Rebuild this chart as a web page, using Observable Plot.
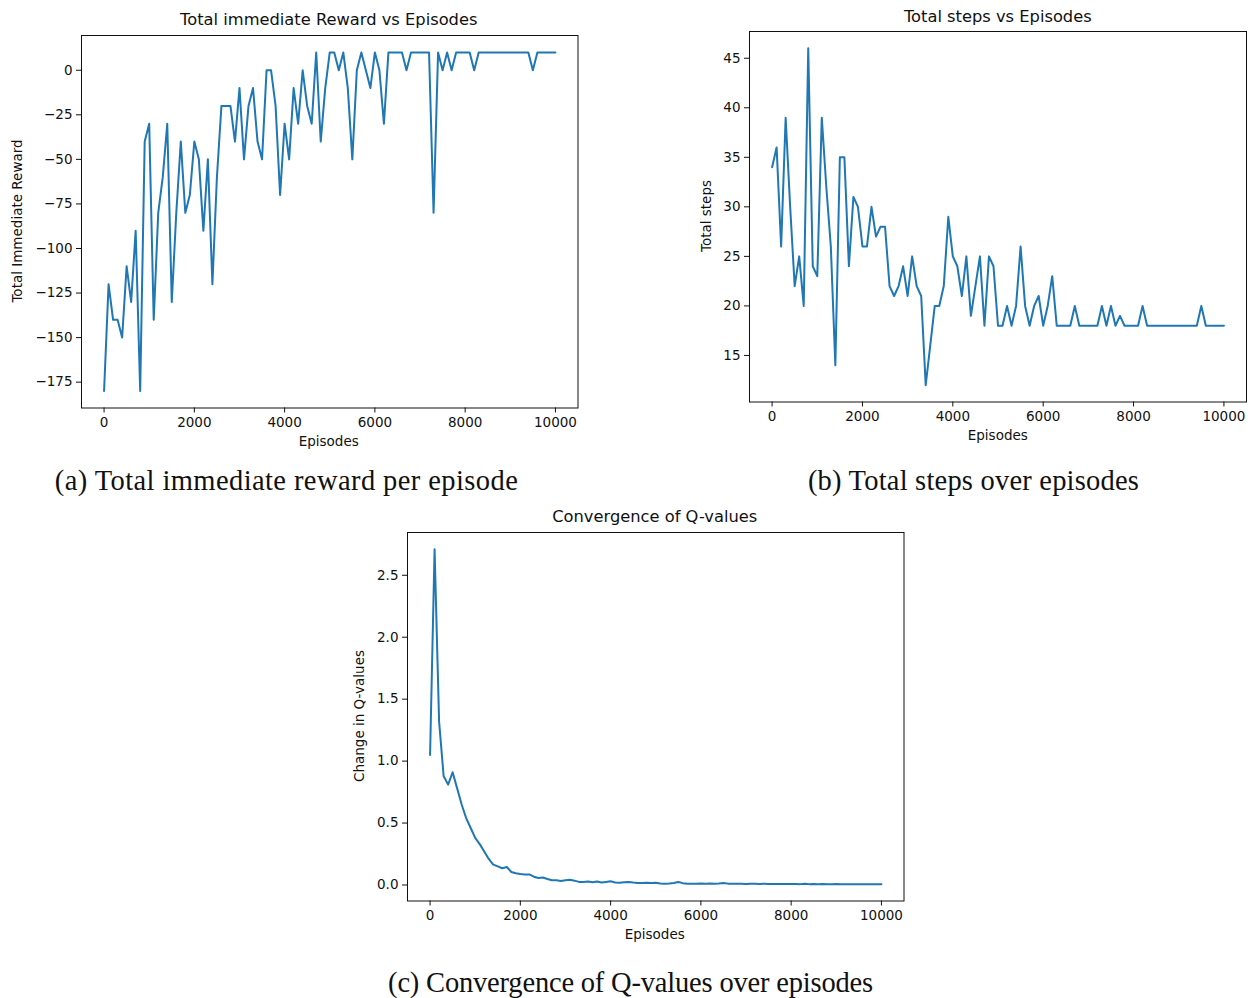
<!DOCTYPE html>
<html><head><meta charset="utf-8">
<script src="https://cdn.jsdelivr.net/npm/d3@7"></script>
<script src="https://cdn.jsdelivr.net/npm/@observablehq/plot@0.6"></script>
<style>
html,body{margin:0;padding:0;background:#fff}
body{width:1252px;height:998px;position:relative;overflow:hidden}
.abs{position:absolute;white-space:nowrap;line-height:1}
.t{font-family:"DejaVu Sans";color:#111}
.cap{font-family:"Liberation Serif";font-size:28.5px;color:#111}
svg{overflow:visible}
</style></head><body>
<script>
// ---- data ----
const episodes = d3.range(0, 10001, 100);
const rewardValues = [
  -180,-120,-140,-140,-150,-110,-130,-90,-180,-40,
  -30,-140,-80,-60,-30,-130,-80,-40,-80,-70,
  -40,-50,-90,-50,-120,-60,-20,-20,-20,-40,
  -10,-50,-20,-10,-40,-50,0,0,-20,-70,
  -30,-50,-10,-30,0,-20,-30,10,-40,-10,
  10,10,0,10,-10,-50,0,10,0,-10,
  10,0,-30,10,10,10,10,0,10,10,
  10,10,10,-80,10,0,10,0,10,10,
  10,10,0,10,10,10,10,10,10,10,
  10,10,10,10,10,0,10,10,10,10,
  10
];
const stepValues = [
  34,36,26,39,30,22,25,20,46,24,
  23,39,32,26,14,35,35,24,31,30,
  26,26,30,27,28,28,22,21,22,24,
  21,25,22,21,12,16,20,20,22,29,
  25,24,21,25,19,22,25,18,25,24,
  18,18,20,18,20,26,20,18,20,21,
  18,20,23,18,18,18,18,20,18,18,
  18,18,18,20,18,20,18,19,18,18,
  18,18,20,18,18,18,18,18,18,18,
  18,18,18,18,18,20,18,18,18,18,
  18
];
const qChangeValues = [
  1.05,2.71,1.32,0.88,0.81,0.91,0.78,0.65,0.54,0.46,
  0.38,0.33,0.27,0.21,0.165,0.15,0.135,0.145,0.105,0.095,
  0.088,0.085,0.085,0.067,0.056,0.06,0.048,0.038,0.038,0.032,
  0.038,0.043,0.035,0.025,0.025,0.028,0.022,0.028,0.02,0.025,
  0.03,0.02,0.018,0.022,0.025,0.02,0.016,0.017,0.018,0.016,
  0.018,0.012,0.011,0.013,0.016,0.024,0.015,0.011,0.01,0.011,
  0.012,0.011,0.013,0.01,0.012,0.016,0.011,0.01,0.011,0.01,
  0.009,0.01,0.011,0.009,0.01,0.009,0.008,0.009,0.008,0.008,
  0.009,0.008,0.007,0.01,0.007,0.008,0.007,0.008,0.007,0.007,
  0.008,0.007,0.007,0.006,0.007,0.007,0.006,0.007,0.006,0.006,
  0.006
];
const xTicks = [0, 2000, 4000, 6000, 8000, 10000];
const rewardTicks = [-175, -150, -125, -100, -75, -50, -25, 0];
const stepTicks = [15, 20, 25, 30, 35, 40, 45];
const qTicks = [0, 0.5, 1, 1.5, 2, 2.5];
const titles = ["Total immediate Reward vs Episodes", "Total steps vs Episodes", "Convergence of Q-values"];
const yLabels = ["Total Immediate Reward", "Total steps", "Change in Q-values"];
const xLabel = "Episodes";
const captions = ["(a) Total immediate reward per episode", "(b) Total steps over episodes", "(c) Convergence of Q-values over episodes"];

// ---- layout ----
const panels = [
  {values: rewardValues, ticks: rewardTicks, fmt: d => String(d).replace("-", "\u2212"),
   frame: {left: 80.5, top: 34.5, width: 496.5, height: 372.5}, ylabOff: 62.5,
   title: titles[0], ylabel: yLabels[0],
   caption: captions[0], capX: 286.5, capY: 481, capW: 463},
  {values: stepValues, ticks: stepTicks, fmt: d => String(d),
   frame: {left: 749.3, top: 31, width: 497, height: 370.5}, ylabOff: 42,
   title: titles[1], ylabel: yLabels[1],
   caption: captions[1], capX: 973.5, capY: 481, capW: 331},
  {values: qChangeValues, ticks: qTicks, fmt: d => d.toFixed(1),
   frame: {left: 406.5, top: 531.5, width: 496.5, height: 368.5}, ylabOff: 46.5,
   title: titles[2], ylabel: yLabels[2],
   caption: captions[2], capX: 630.5, capY: 983, capW: 485}
];

function pad(ext) { const m = (ext[1] - ext[0]) * 0.05; return [ext[0] - m, ext[1] + m]; }

function addDiv(text, cls, css) {
  const d = document.createElement("div");
  d.className = "abs " + cls;
  d.textContent = text;
  Object.assign(d.style, css);
  document.body.appendChild(d);
  return d;
}

const ML = 90, MR = 12, MT = 10, MB = 50;
for (const p of panels) {
  const f = p.frame;
  const data = episodes.map((e, i) => ({episode: e, value: p.values[i]}));
  const chart = Plot.plot({
    width: f.width + ML + MR,
    height: f.height + MT + MB,
    marginLeft: ML, marginRight: MR, marginTop: MT, marginBottom: MB,
    style: {fontFamily: "DejaVu Sans", fontSize: "13.5px", color: "#111", background: "transparent", overflow: "visible"},
    x: {domain: pad(d3.extent(episodes)), ticks: xTicks, tickFormat: d => String(d), tickSize: 5, tickPadding: 4, label: null},
    y: {domain: pad(d3.extent(p.values)), ticks: p.ticks, tickFormat: p.fmt, tickSize: 5, tickPadding: 4, label: null},
    marks: [
      Plot.line(data, {x: "episode", y: "value", stroke: "#1f77b4", strokeWidth: 2, strokeLinejoin: "round"}),
      Plot.frame({stroke: "#111", strokeWidth: 1}),
      Plot.axisX({ticks: xTicks, tickFormat: d => String(d), tickSize: 5, tickPadding: 4, label: null, stroke: "#111"}),
      Plot.axisY({ticks: p.ticks, tickFormat: p.fmt, tickSize: 5, tickPadding: 4, label: null, stroke: "#111"})
    ]
  });
  chart.style.position = "absolute";
  chart.style.left = (f.left - ML) + "px";
  chart.style.top = (f.top - MT) + "px";
  document.body.appendChild(chart);

  const cx = f.left + f.width / 2, cy = f.top + f.height / 2;
  addDiv(p.title, "t", {left: cx + "px", top: (f.top - 14.5) + "px", fontSize: "16.3px", transform: "translate(-50%,-50%)"});
  addDiv(xLabel, "t", {left: cx + "px", top: (f.top + f.height + 34.5) + "px", fontSize: "13.5px", transform: "translate(-50%,-50%)"});
  addDiv(p.ylabel, "t", {left: (f.left - p.ylabOff) + "px", top: cy + "px", fontSize: "13.5px", transform: "translate(-50%,-50%) rotate(-90deg)"});
  const c = addDiv(p.caption, "cap", {left: p.capX + "px", top: p.capY + "px", transform: "translate(-50%,-50%)"});
  const w = c.getBoundingClientRect().width;
  const n = p.caption.length;
  c.style.letterSpacing = ((p.capW - w) / (n - 1)) + "px";
}
</script>
</body></html>
